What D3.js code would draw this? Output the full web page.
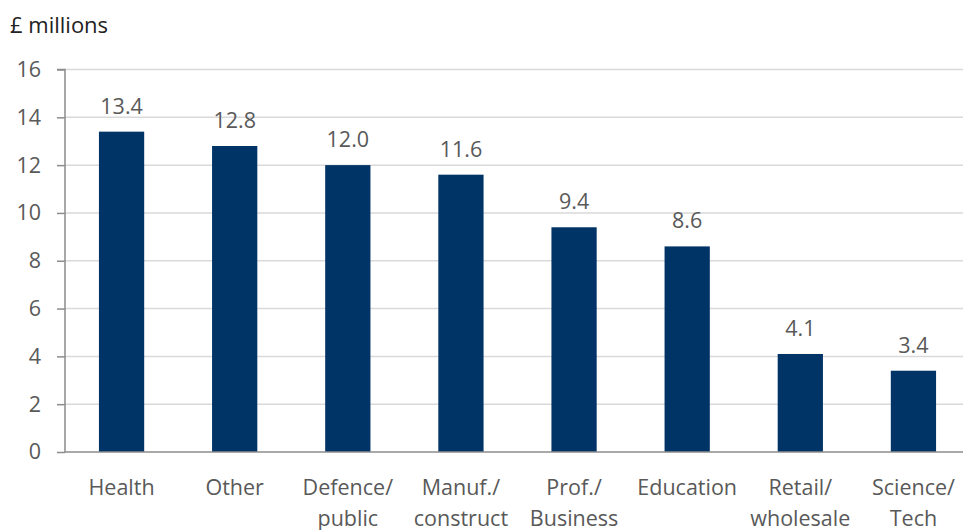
<!DOCTYPE html>
<html><head><meta charset="utf-8">
<script src="https://cdn.jsdelivr.net/npm/d3@7"></script>
<style>body{margin:0;background:#fff;} text{font-family:"Open Sans","Noto Sans",sans-serif;}</style>
</head><body>
<svg id="chart" width="963" height="530"></svg>
<script>
const categories = [["Health"],["Other"],["Defence/","public"],["Manuf./","construct"],["Prof./","Business"],["Education"],["Retail/","wholesale"],["Science/","Tech"]];
const values = [13.4, 12.8, 12.0, 11.6, 9.4, 8.6, 4.1, 3.4];
const yTicks = [0,2,4,6,8,10,12,14,16];
const unitLabel = "£ millions";

const svg = d3.select("#chart");
const mLeft = 65, mRight = 970, mTop = 69.5, mBottom = 452;
const ids = categories.map((c,i)=>i);
const x = d3.scaleBand().domain(ids).range([mLeft,mRight]).paddingInner(0.6).paddingOuter(0.3);
const y = d3.scaleLinear().domain([0,16]).range([mBottom,mTop]);
const textColor = "#595959";
const fs = 21.5;

// gridlines
svg.append("g").selectAll("line").data(yTicks.filter(t=>t>0)).join("line")
  .attr("x1",mLeft).attr("x2",963).attr("y1",d=>y(d)).attr("y2",d=>y(d))
  .attr("stroke","#d9d9d9").attr("stroke-width",1.5);

// bars
svg.append("g").selectAll("rect").data(values).join("rect")
  .attr("x",(d,i)=>x(i)).attr("width",x.bandwidth())
  .attr("y",d=>y(d)).attr("height",d=>y(0)-y(d)).attr("fill","#003366");

// value labels
svg.append("g").selectAll("text").data(values).join("text")
  .attr("x",(d,i)=>x(i)+x.bandwidth()/2).attr("y",d=>y(d)-18)
  .attr("text-anchor","middle").attr("fill",textColor).attr("font-size",fs)
  .text(d=>d.toFixed(1));

// y axis
const yAxis = d3.axisLeft(y).tickValues(yTicks).tickSize(8).tickPadding(16);
const gy = svg.append("g").attr("transform",`translate(${mLeft},0)`).call(yAxis);
gy.select(".domain").attr("stroke","#8c8c8c").attr("stroke-width",1.5).attr("d",`M-8,${y(16)}H0V${y(0)}`);
gy.selectAll(".tick line").attr("stroke","#8c8c8c").attr("stroke-width",1.5);
gy.selectAll(".tick text").attr("fill",textColor).attr("font-size",fs).attr("font-family","'Open Sans','Noto Sans',sans-serif");

// x axis baseline
svg.append("line").attr("x1",mLeft).attr("x2",963).attr("y1",y(0)).attr("y2",y(0))
  .attr("stroke","#8c8c8c").attr("stroke-width",1.5);

// category labels
const xl = svg.append("g").selectAll("text").data(categories).join("text")
  .attr("text-anchor","middle").attr("fill",textColor).attr("font-size",fs)
  .attr("x",(d,i)=>x(i)+x.bandwidth()/2).attr("y",495);
xl.selectAll("tspan").data(d=>d).join("tspan")
  .attr("x",function(){return this.parentNode.getAttribute("x");})
  .attr("dy",(d,j)=>j===0?0:31).text(d=>d);

svg.append("text").attr("x",10).attr("y",33).attr("fill","#222").attr("font-size",22).text(unitLabel);
</script>
</body></html>
